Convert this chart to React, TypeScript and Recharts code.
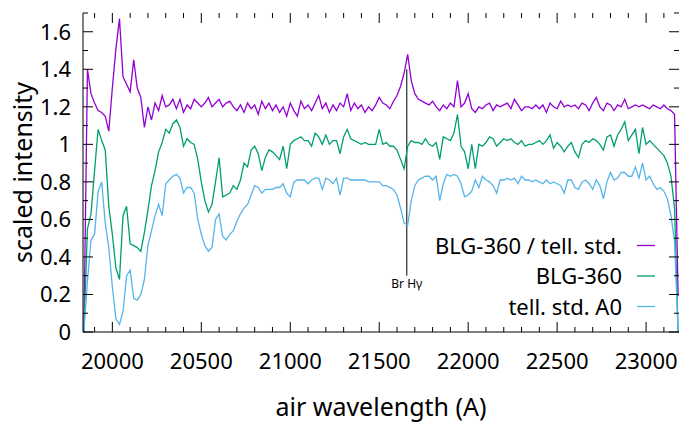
import { LineChart, Line, XAxis, YAxis, ReferenceLine, Legend, Label } from 'recharts';

// air wavelength grid (A)
const wavelength = [
  19840, 19860, 19880, 19900, 19920, 19940, 19960, 19980, 20000, 20020,
  20040, 20060, 20080, 20100, 20120, 20140, 20160, 20180, 20200, 20220,
  20240, 20260, 20280, 20300, 20320, 20340, 20360, 20380, 20400, 20420,
  20440, 20460, 20480, 20500, 20520, 20540, 20560, 20580, 20600, 20620,
  20640, 20660, 20680, 20700, 20720, 20740, 20760, 20780, 20800, 20820,
  20840, 20860, 20880, 20900, 20920, 20940, 20960, 20980, 21000, 21020,
  21040, 21060, 21080, 21100, 21120, 21140, 21160, 21180, 21200, 21220,
  21240, 21260, 21280, 21300, 21320, 21340, 21360, 21380, 21400, 21420,
  21440, 21460, 21480, 21500, 21520, 21540, 21560, 21580, 21600, 21620,
  21640, 21660, 21680, 21700, 21720, 21740, 21760, 21780, 21800, 21820,
  21840, 21860, 21880, 21900, 21920, 21940, 21960, 21980, 22000, 22020,
  22040, 22060, 22080, 22100, 22120, 22140, 22160, 22180, 22200, 22220,
  22240, 22260, 22280, 22300, 22320, 22340, 22360, 22380, 22400, 22420,
  22440, 22460, 22480, 22500, 22520, 22540, 22560, 22580, 22600, 22620,
  22640, 22660, 22680, 22700, 22720, 22740, 22760, 22780, 22800, 22820,
  22840, 22860, 22880, 22900, 22920, 22940, 22960, 22980, 23000, 23020,
  23040, 23060, 23080, 23100, 23120, 23140, 23160, 23180,
];

// BLG-360 / tell. std.
const ratio = [
  0.0, 1.4, 1.27, 1.22, 1.18, 1.17, 1.15, 1.07, 1.3, 1.51,
  1.67, 1.36, 1.32, 1.28, 1.45, 1.3, 1.25, 1.09, 1.2, 1.13,
  1.22, 1.18, 1.26, 1.2, 1.21, 1.24, 1.19, 1.24, 1.17, 1.21,
  1.19, 1.24, 1.22, 1.2, 1.22, 1.25, 1.2, 1.22, 1.24, 1.2,
  1.22, 1.23, 1.2, 1.18, 1.21, 1.17, 1.22, 1.19, 1.21, 1.16,
  1.23, 1.19, 1.22, 1.18, 1.21, 1.17, 1.2, 1.15, 1.22, 1.18,
  1.15, 1.23, 1.19, 1.21, 1.18, 1.22, 1.26, 1.19, 1.22, 1.17,
  1.21, 1.18, 1.22, 1.2, 1.27, 1.18, 1.22, 1.19, 1.21, 1.17,
  1.2, 1.18, 1.21, 1.25, 1.22, 1.21, 1.19, 1.23, 1.26, 1.31,
  1.38, 1.48, 1.34, 1.27, 1.24, 1.23, 1.22, 1.21, 1.23, 1.2,
  1.18, 1.21, 1.19, 1.22, 1.2, 1.34, 1.2, 1.22, 1.27, 1.19,
  1.17, 1.2, 1.19, 1.21, 1.22, 1.18, 1.21, 1.2, 1.21, 1.22,
  1.19, 1.24, 1.21, 1.18, 1.2, 1.2, 1.19, 1.21, 1.19, 1.21,
  1.17, 1.22, 1.2, 1.19, 1.23, 1.2, 1.21, 1.2, 1.21, 1.19,
  1.22, 1.21, 1.18, 1.22, 1.25, 1.2, 1.18, 1.22, 1.21, 1.18,
  1.21, 1.2, 1.24, 1.19, 1.2, 1.21, 1.2, 1.21, 1.2, 1.19,
  1.21, 1.2, 1.19, 1.21, 1.19, 1.18, 1.16, 0.19,
];

// BLG-360
const blg360 = [
  0.0, 0.55, 0.63, 0.86, 1.08, 1.02, 0.97, 0.67, 0.52, 0.34,
  0.28, 0.62, 0.67, 0.47, 0.46, 0.45, 0.43, 0.53, 0.65, 0.78,
  0.86, 0.96, 1.01, 1.08, 1.06, 1.11, 1.13, 1.09, 0.99, 1.03,
  1.01, 1.0, 0.92, 0.8, 0.7, 0.64, 0.68, 0.8, 0.93, 0.72,
  0.73, 0.74, 0.78, 0.76, 0.81, 0.9, 0.88, 0.97, 0.99, 0.95,
  0.86, 0.93, 0.97, 0.96, 0.94, 0.92, 0.99, 0.87, 1.0, 1.02,
  1.03, 1.04, 1.02, 1.02, 0.99, 1.06, 1.04, 1.0, 1.05, 1.0,
  1.02, 1.02, 0.95, 1.04, 1.08, 1.03, 1.02, 1.01, 1.0, 1.01,
  1.0, 1.0, 1.0, 1.08, 1.0, 1.01, 0.99, 0.99, 0.97, 0.92,
  0.87, 0.99, 1.02, 1.01, 1.01, 1.0, 1.03, 1.0, 0.99, 1.01,
  0.92, 1.04, 1.03, 1.02, 1.06, 1.16, 0.99, 0.96, 0.87, 1.0,
  0.87, 1.0, 0.99, 1.01, 1.04, 1.03, 0.99, 1.01, 1.03, 1.02,
  1.03, 1.01, 1.0, 1.02, 0.99, 1.0, 1.0, 1.01, 1.02, 1.0,
  1.02, 1.05, 0.98, 1.01, 0.99, 0.96, 0.99, 1.01, 0.96, 0.93,
  1.0, 1.02, 1.01, 1.03, 1.02, 1.0, 0.97, 1.04, 1.05, 0.99,
  1.05, 1.08, 1.12, 1.02, 1.05, 1.08, 0.95, 1.09, 1.0, 1.02,
  1.0, 0.98, 0.96, 0.94, 0.9, 0.83, 0.66, 0.0,
];

// tell. std. A0
const tellStd = [
  0.0, 0.27, 0.49, 0.52, 0.75, 0.8, 0.58, 0.45, 0.24, 0.07,
  0.04, 0.11, 0.3, 0.33, 0.18, 0.17, 0.2, 0.28, 0.46, 0.54,
  0.62, 0.68, 0.62, 0.79, 0.81, 0.83, 0.84, 0.82, 0.74, 0.77,
  0.77, 0.74, 0.6, 0.52, 0.46, 0.43, 0.45, 0.6, 0.63, 0.51,
  0.49, 0.52, 0.54, 0.59, 0.63, 0.66, 0.68, 0.73, 0.78, 0.77,
  0.74, 0.76, 0.76, 0.76, 0.77, 0.77, 0.79, 0.74, 0.72, 0.8,
  0.81, 0.81, 0.81, 0.79, 0.81, 0.82, 0.82, 0.76, 0.82, 0.81,
  0.79, 0.82, 0.73, 0.82, 0.82, 0.81, 0.81, 0.81, 0.81, 0.81,
  0.8, 0.8, 0.8, 0.8, 0.78, 0.78, 0.77, 0.76, 0.73, 0.66,
  0.58, 0.57, 0.7, 0.78, 0.81, 0.82, 0.83, 0.83, 0.81, 0.83,
  0.7, 0.79, 0.84, 0.83, 0.84, 0.83, 0.79, 0.72, 0.73, 0.75,
  0.81, 0.77, 0.83, 0.81, 0.8, 0.78, 0.74, 0.81, 0.81, 0.82,
  0.81, 0.82, 0.79, 0.83, 0.81, 0.81, 0.8, 0.81, 0.8, 0.79,
  0.81, 0.79, 0.8, 0.79, 0.78, 0.74, 0.81, 0.81, 0.77, 0.76,
  0.8, 0.81, 0.79, 0.76, 0.81, 0.78, 0.71, 0.8, 0.85, 0.81,
  0.82, 0.85, 0.85, 0.83, 0.83, 0.88, 0.82, 0.9, 0.81, 0.83,
  0.79, 0.76, 0.77, 0.75, 0.71, 0.62, 0.48, 0.0,
];

const xTicks = [
  19900, 20000, 20100, 20200, 20300, 20400, 20500, 20600, 20700, 20800, 20900,
  21000, 21100, 21200, 21300, 21400, 21500, 21600, 21700, 21800, 21900,
  22000, 22100, 22200, 22300, 22400, 22500, 22600, 22700, 22800, 22900,
  23000, 23100,
];
const yTicks = [0, 0.1, 0.2, 0.3, 0.4, 0.5, 0.6, 0.7, 0.8, 0.9, 1, 1.1, 1.2, 1.3, 1.4, 1.5, 1.6, 1.7];

const BR_GAMMA = 21655;

const series = [
  { key: 'ratio', name: 'BLG-360 / tell. std.', color: '#9400d3' },
  { key: 'blg', name: 'BLG-360', color: '#009e73' },
  { key: 'tell', name: 'tell. std. A0', color: '#56b4e9' },
];

const data = wavelength.map((wl, i) => ({
  wl,
  ratio: ratio[i],
  blg: blg360[i],
  tell: tellStd[i],
}));

const PLOT_W = 596;
const PLOT_H = 319;
const FONT = "'Noto Sans', sans-serif";

// gnuplot-style ticks: pointing inward, mirrored on the opposite side
const XTick = ({ x, y, payload }: any) => {
  const v = payload.value;
  const major = v % 500 === 0;
  const len = major ? 10 : 5;
  return (
    <g>
      <line x1={x} x2={x} y1={y} y2={y - len} stroke="#000" />
      <line x1={x} x2={x} y1={y - PLOT_H} y2={y - PLOT_H + len} stroke="#000" />
      {major && (
        <text x={x} y={y + 37} textAnchor="middle" fontSize={22} fill="#000">
          {v}
        </text>
      )}
    </g>
  );
};

const YTick = ({ x, y, payload }: any) => {
  const v = payload.value;
  const major = Math.round(v * 10) % 2 === 0;
  const len = major ? 10 : 5;
  return (
    <g>
      <line x1={x} x2={x + len} y1={y} y2={y} stroke="#000" />
      <line x1={x + PLOT_W} x2={x + PLOT_W - len} y1={y} y2={y} stroke="#000" />
      {major && (
        <text x={x - 12} y={y + 8} textAnchor="end" fontSize={22} fill="#000">
          {v}
        </text>
      )}
    </g>
  );
};

const LegendBox = () => (
  <svg width={694} height={424} style={{ display: 'block', fontFamily: FONT }}>
    {series.map((s, i) => {
      const cy = 245.5 + i * 30.5;
      return (
        <g key={s.key}>
          <text x={622} y={cy + 8} textAnchor="end" fontSize={22} fill="#000">
            {s.name}
          </text>
          <line x1={637} x2={655} y1={cy} y2={cy} stroke={s.color} strokeWidth={1.3} />
        </g>
      );
    })}
  </svg>
);

export default function App() {
  return (
    <div
      style={{
        position: 'absolute',
        left: 0,
        top: 0,
        width: 694,
        height: 424,
        background: '#fff',
        fontFamily: FONT,
      }}
    >
      <LineChart width={694} height={424} data={data} margin={{ top: 13, right: 15, bottom: 0, left: 0 }}>
        <XAxis
          dataKey="wl"
          type="number"
          domain={[19835, 23185]}
          allowDataOverflow
          ticks={xTicks}
          interval={0}
          tick={XTick}
          tickSize={0}
          tickMargin={0}
          tickLine={false}
          height={92}
          axisLine={{ stroke: '#000' }}
        >
          <Label value="air wavelength (A)" position="insideBottom" offset={8} style={{ fontSize: 25, fill: '#000' }} />
        </XAxis>
        <XAxis
          xAxisId="top"
          orientation="top"
          type="number"
          domain={[19835, 23185]}
          height={0}
          tick={false}
          tickLine={false}
          axisLine={{ stroke: '#000' }}
        />
        <YAxis
          type="number"
          domain={[0, 1.7]}
          allowDataOverflow
          ticks={yTicks}
          interval={0}
          tick={YTick}
          tickSize={0}
          tickMargin={0}
          tickLine={false}
          width={83}
          axisLine={{ stroke: '#000' }}
        >
          <Label
            value="scaled intensity"
            angle={-90}
            position="insideLeft"
            offset={23}
            style={{ fontSize: 25, fill: '#000', textAnchor: 'middle' }}
          />
        </YAxis>
        <YAxis
          yAxisId="right"
          orientation="right"
          type="number"
          domain={[0, 1.7]}
          width={0}
          tick={false}
          tickLine={false}
          axisLine={{ stroke: '#000' }}
        />
        <ReferenceLine
          segment={[
            { x: BR_GAMMA, y: 0.3 },
            { x: BR_GAMMA, y: 1.4 },
          ]}
          stroke="#000"
          strokeWidth={1}
          label={{ value: 'Br Hγ', position: 'bottom', offset: 4, fontSize: 12, fill: '#000' }}
        />
        {series.map((s) => (
          <Line
            key={s.key}
            type="linear"
            dataKey={s.key}
            name={s.name}
            stroke={s.color}
            strokeWidth={1.3}
            dot={false}
            isAnimationActive={false}
          />
        ))}
        <Legend
          layout="horizontal"
          verticalAlign="middle"
          align="center"
          wrapperStyle={{ left: 0, top: 0, width: 694, height: 424, pointerEvents: 'none' }}
          content={LegendBox}
        />
      </LineChart>
    </div>
  );
}
